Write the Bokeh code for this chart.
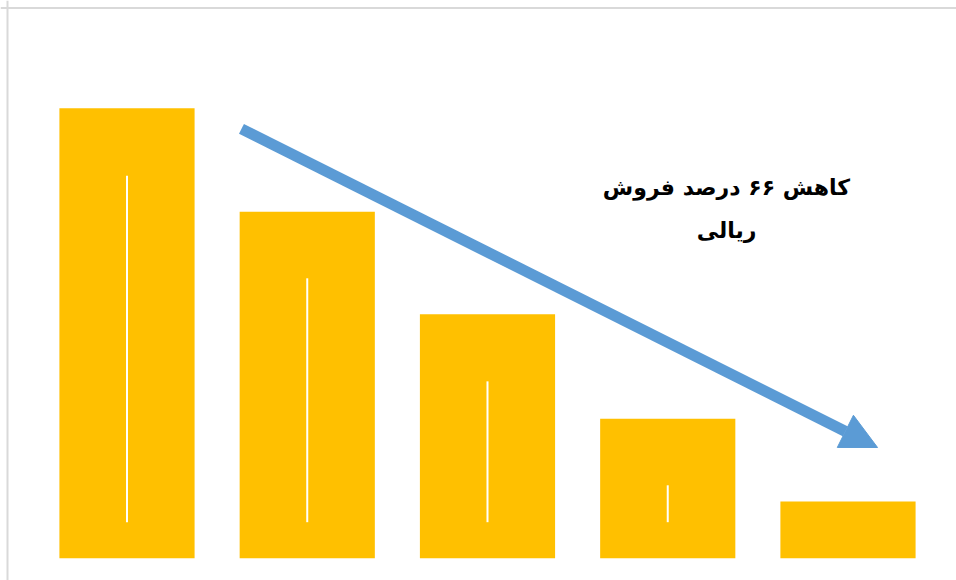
from bokeh.plotting import figure
from bokeh.models import Range1d, Arrow, NormalHead, Label, Span, ColumnDataSource
from bokeh.embed import file_html
from bokeh.resources import INLINE

# data
categories = ["1", "2", "3", "4", "5"]
sales = [100, 77, 54.2, 31, 12.6]
inner_top = [85, 62.2, 39.3, 16.2]
inner_bottom = [8, 8, 8, 8]
note_line1 = "کاهش ۶۶ درصد فروش"
note_line2 = "ریالی"

idx = list(range(len(categories)))

p = figure(width=956, height=580, output_backend="svg", toolbar_location=None,
           x_range=Range1d(-0.7018, 4.602), y_range=Range1d(-4.956, 123.93),
           min_border=0, min_border_left=0, min_border_right=0,
           min_border_top=0, min_border_bottom=0)
p.axis.visible = False
p.grid.visible = False
p.outline_line_color = None
p.background_fill_color = "white"
p.border_fill_color = "white"

src = ColumnDataSource(dict(x=idx, top=sales))
p.vbar(x="x", top="top", bottom=0, width=0.75, source=src,
       fill_color="#FFC000", line_color=None)

p.segment(x0=idx[:4], y0=inner_bottom, x1=idx[:4], y1=inner_top,
          line_color="white", line_width=2)

# trend arrow
p.add_layout(Arrow(x_start=0.635, y_start=95.4, x_end=4.164, y_end=24.6,
                   line_color="#5B9BD5", line_width=11,
                   end=NormalHead(size=36, fill_color="#5B9BD5", line_color="#5B9BD5", line_width=1)))

for txt, yy in [(note_line1, 82.3), (note_line2, 72.8)]:
    p.add_layout(Label(x=3.326, y=yy, text=txt, text_align="center",
                       text_baseline="alphabetic", text_font="DejaVu Sans",
                       text_font_style="bold", text_font_size="22px",
                       text_color="black"))

# chart border (left/top visible)
p.add_layout(Span(location=-0.663, dimension="height",
                  line_color="#d9d9d9", line_width=2))
p.add_layout(Span(location=122.27, dimension="width",
                  line_color="#d9d9d9", line_width=2))

open("out.html", "w").write(file_html(p, INLINE))
